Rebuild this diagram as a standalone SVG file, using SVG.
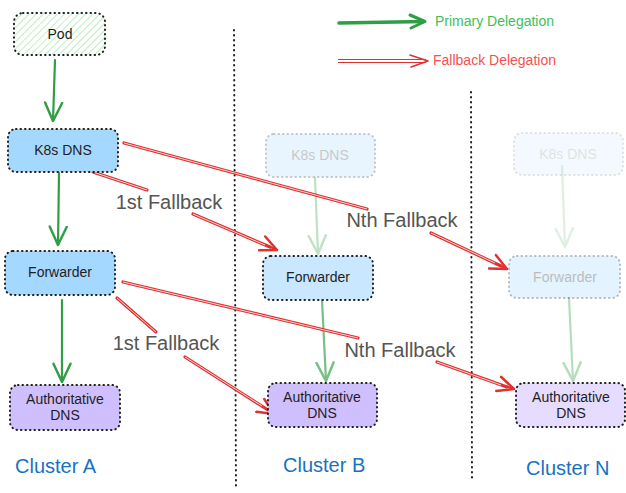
<svg xmlns="http://www.w3.org/2000/svg" width="626" height="493" viewBox="0 0 626 493">
<defs>
<pattern id="hatch" patternUnits="userSpaceOnUse" width="5" height="5" patternTransform="rotate(45)">
<line x1="0" y1="0" x2="0" y2="5" stroke="#9fe8ab" stroke-width="1.4"/>
</pattern>
<marker id="redHead" markerUnits="userSpaceOnUse" markerWidth="20" markerHeight="20" viewBox="-14 -8 16 16" refX="0" refY="0" orient="auto">
<path d="M-13,-6 L0,0 L-13,6" fill="none" stroke="#e03131" stroke-width="2" stroke-linecap="round" stroke-linejoin="round"/>
</marker>
<marker id="greenHead" markerUnits="userSpaceOnUse" markerWidth="22" markerHeight="22" viewBox="-16 -9 18 18" refX="0" refY="0" orient="auto">
<path d="M-15,-7 L0,0 L-15,7" fill="none" stroke="#2f9e44" stroke-width="2" stroke-linecap="round" stroke-linejoin="round"/>
</marker>
</defs>
<style>
text{font-family:"Liberation Sans","DejaVu Sans",sans-serif}
.box{stroke:#1e1e1e;stroke-width:2;stroke-dasharray:0.5 4;stroke-linecap:round}
.lbl{font-size:14px;fill:#1e1e1e;text-anchor:middle;dominant-baseline:central}
.elbl{font-size:20px;fill:#555555;text-anchor:middle;dominant-baseline:central}
.cl{font-size:20px;fill:#1971c2;dominant-baseline:central}
.sep{stroke:#1e1e1e;stroke-width:2;stroke-dasharray:0.5 4.5;stroke-linecap:round;fill:none}
.red{stroke:#e03131;stroke-width:3.2;fill:none;stroke-linecap:round}
.redin{stroke:#ffffff;stroke-width:0.8;fill:none}
.redtip{stroke:#e03131;stroke-width:2;fill:none;stroke-linecap:round}
.grn{stroke:#2f9e44;stroke-width:2.2;fill:none;stroke-linecap:round}
</style>

<g id="separators">
<line class="sep" x1="234" y1="30" x2="236" y2="489"/>
<line class="sep" x1="471" y1="92" x2="472" y2="478"/>
</g>

<g id="legend">
<line x1="339" y1="23" x2="424" y2="21.5" stroke="#2f9e44" stroke-width="3.5" stroke-linecap="round"/>
<path d="M410,15 L425,21.5 L411,28" fill="none" stroke="#2f9e44" stroke-width="3" stroke-linecap="round" stroke-linejoin="round"/>
<text x="435" y="21" font-size="14" fill="#40c057" dominant-baseline="central">Primary Delegation</text>
<line x1="338" y1="59.5" x2="426" y2="59.5" stroke="#e03131" stroke-width="1.2"/>
<line x1="338" y1="62.5" x2="426" y2="62.5" stroke="#e03131" stroke-width="1.2"/>
<path d="M410,55 L428,61 L411,67" fill="none" stroke="#e03131" stroke-width="1.6" stroke-linecap="round" stroke-linejoin="round"/>
<text x="433" y="60" font-size="14" fill="#f05252" dominant-baseline="central">Fallback Delegation</text>
</g>

<g id="connectors">
<path class="grn" d="M55,60 L53,121" stroke-width="3" marker-end="url(#greenHead)"/>
<path class="grn" d="M59,173 L58,245" marker-end="url(#greenHead)"/>
<path class="grn" d="M62,300 L62,382" stroke-width="2.6" marker-end="url(#greenHead)"/>
<g opacity="0.3"><path class="grn" d="M315,178 L318,254" marker-end="url(#greenHead)"/></g>
<g opacity="0.65"><path class="grn" d="M322,300 L326,381" stroke-width="2.6" marker-end="url(#greenHead)"/></g>
<g opacity="0.15"><path class="grn" d="M562,166 L565,247" marker-end="url(#greenHead)"/></g>
<g opacity="0.35"><path class="grn" d="M569,298 L573,381" stroke-width="2.6" marker-end="url(#greenHead)"/></g>

<path class="red" d="M93,172 L147,190"/><path class="redin" d="M93,172 L147,190"/>
<path class="red" d="M193,214 L270,247"/><path class="redin" d="M193,214 L265,245"/>
<path class="redtip" d="M268,246 L277,250" marker-end="url(#redHead)"/>
<text class="elbl" x="169" y="202">1st Fallback</text>

<path class="red" d="M124,143 L367,209"/><path class="redin" d="M124,143 L367,209"/>
<path class="red" d="M431,233 L501,266"/><path class="redin" d="M431,233 L495,263"/>
<path class="redtip" d="M499,265 L507,269" marker-end="url(#redHead)"/>
<text class="elbl" x="402" y="220">Nth Fallback</text>

<path class="red" d="M117,298 L156,332"/><path class="redin" d="M117,298 L156,332"/>
<path class="red" d="M185,357 L268,410"/><path class="redin" d="M185,357 L262,406"/>
<path class="redtip" d="M266,409 L274,414" marker-end="url(#redHead)"/>
<text class="elbl" x="166" y="343">1st Fallback</text>

<path class="red" d="M123,282 L358,338"/><path class="redin" d="M123,282 L358,338"/>
<path class="red" d="M437,362 L507,387"/><path class="redin" d="M437,362 L501,385"/>
<path class="redtip" d="M505,386 L514,389" marker-end="url(#redHead)"/>
<text class="elbl" x="400" y="350">Nth Fallback</text>
</g>

<g id="pod">
<rect x="14" y="13" width="91" height="42" rx="9" fill="#ffffff"/>
<rect class="box" x="14" y="13" width="91" height="42" rx="9" fill="url(#hatch)"/>
<text class="lbl" x="60" y="34">Pod</text>
</g>

<g id="k8s-dns-a">
<rect class="box" x="8" y="129" width="110" height="43" rx="8" fill="#a5d8ff"/>
<text class="lbl" x="63" y="150">K8s DNS</text>
</g>
<g id="forwarder-a">
<rect class="box" x="5" y="251" width="110" height="44" rx="8" fill="#a5d8ff"/>
<text class="lbl" x="60" y="272">Forwarder</text>
</g>
<g id="auth-dns-a">
<rect class="box" x="10" y="385" width="110" height="45" rx="8" fill="#d0bfff"/>
<text class="lbl" x="65" y="399">Authoritative</text>
<text class="lbl" x="65" y="415">DNS</text>
</g>

<g id="k8s-dns-b" opacity="0.25">
<rect class="box" x="266" y="134" width="109" height="43" rx="8" fill="#a5d8ff" stroke="#555"/>
<text class="lbl" x="320" y="155">K8s DNS</text>
</g>
<g id="forwarder-b">
<rect x="263" y="256" width="110" height="44" rx="8" fill="#a5d8ff" opacity="0.6"/>
<rect class="box" x="263" y="256" width="110" height="44" rx="8" fill="none" stroke="#555"/>
<text class="lbl" x="318" y="277" fill="#444">Forwarder</text>
</g>
<g id="auth-dns-b">
<rect class="box" x="268" y="383" width="109" height="44" rx="8" fill="#d0bfff"/>
<text class="lbl" x="322" y="397">Authoritative</text>
<text class="lbl" x="322" y="413">DNS</text>
</g>

<g id="k8s-dns-n" opacity="0.13">
<rect class="box" x="514" y="133" width="109" height="42" rx="8" fill="#a5d8ff" stroke="#555"/>
<text class="lbl" x="568" y="154">K8s DNS</text>
</g>
<g id="forwarder-n" opacity="0.3">
<rect class="box" x="509" y="256" width="111" height="42" rx="8" fill="#a5d8ff" stroke="#333"/>
<text class="lbl" x="565" y="277">Forwarder</text>
</g>
<g id="auth-dns-n">
<rect x="516" y="383" width="109" height="44" rx="8" fill="#d0bfff" opacity="0.55"/>
<rect class="box" x="516" y="383" width="109" height="44" rx="8" fill="none" stroke="#777"/>
<text class="lbl" x="571" y="397" fill="#666">Authoritative</text>
<text class="lbl" x="571" y="413" fill="#666">DNS</text>
</g>

<g id="cluster-labels">
<text class="cl" x="15" y="466">Cluster A</text>
<text class="cl" x="283" y="465">Cluster B</text>
<text class="cl" x="526" y="468">Cluster N</text>
</g>
</svg>
